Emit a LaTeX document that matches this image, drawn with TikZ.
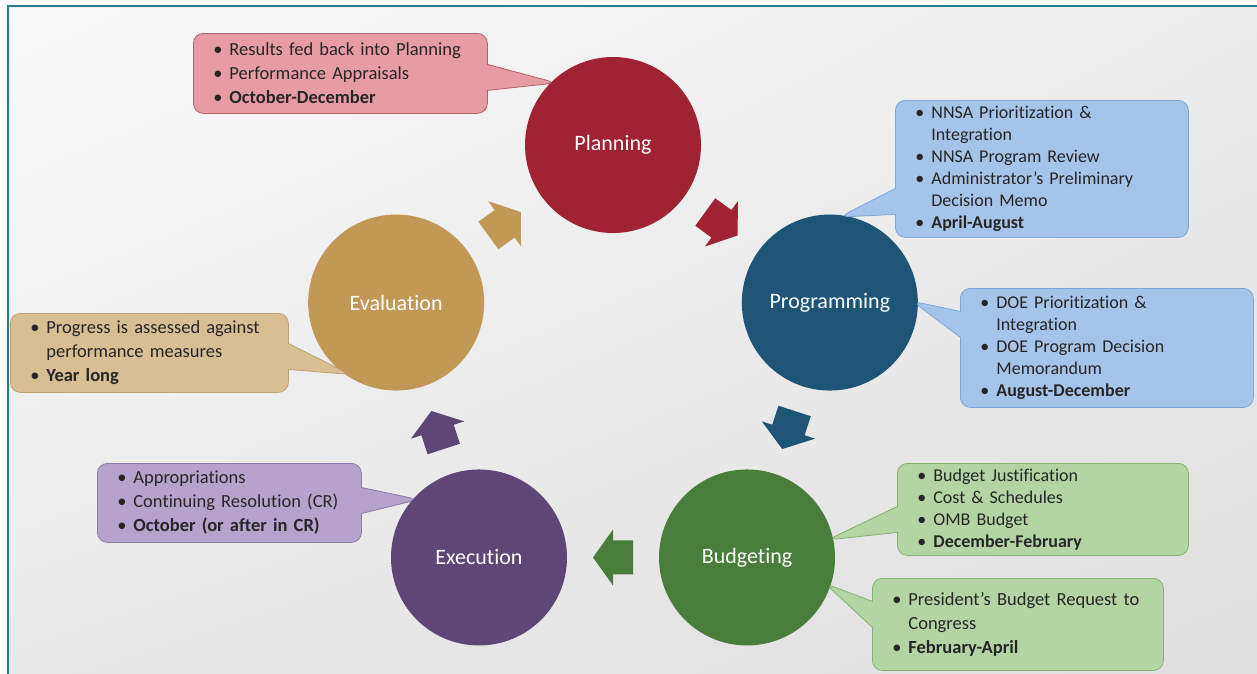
\documentclass[tikz,border=0pt]{standalone}
\usepackage{fontspec}
\setmainfont{Carlito}[Ligatures={NoCommon,NoRare}]
\usetikzlibrary{shapes.callouts,calc,shadings}

% stage colours and the lighter note colours
\definecolor{planRed}{HTML}{A02334}
\definecolor{progBlue}{HTML}{1E5577}
\definecolor{budgGreen}{HTML}{497D3C}
\definecolor{execPurple}{HTML}{5E4676}
\definecolor{evalGold}{HTML}{C19856}
\definecolor{planFill}{HTML}{E79CA5}
\definecolor{planLine}{HTML}{B4606B}
\definecolor{progFill}{HTML}{A5C4EA}
\definecolor{progLine}{HTML}{7EA6D9}
\definecolor{budgFill}{HTML}{B2D5A3}
\definecolor{budgLine}{HTML}{84B271}
\definecolor{execFill}{HTML}{B5A3CD}
\definecolor{execLine}{HTML}{8D79AA}
\definecolor{evalFill}{HTML}{D9BD95}
\definecolor{evalLine}{HTML}{BFA071}
\definecolor{ink}{HTML}{262626}
\definecolor{frameTeal}{HTML}{1F7F8F}
\definecolor{bgA}{HTML}{FAFAFA}
\definecolor{bgB}{HTML}{ECECEC}
\definecolor{bgC}{HTML}{E9E9E9}
\definecolor{bgD}{HTML}{DFDFDF}

% one bullet line, and a wrapped line under it
\newcommand\itm[1]{\mbox{\makebox[16pt][l]{\textbullet}#1}}
\newcommand\cont[1]{\mbox{\hspace*{16pt}#1}}

\tikzset{
  stage/.style={circle, minimum size=176pt, inner sep=0pt, text=white,
    font=\fontsize{22pt}{26pt}\selectfont},
  note/.style={rectangle callout, rounded corners=10pt, line width=0.8pt,
    anchor=north west, inner xsep=20pt, inner ysep=2pt, align=left, text=ink,
    font=\fontsize{18.5pt}{24pt}\selectfont,
    callout pointer width=26pt, callout pointer shorten=-6pt},
  tight/.style={font=\fontsize{18pt}{22pt}\selectfont},
  frame/.style={draw=frameTeal, line width=2.5pt},
}

\begin{document}
\begin{tikzpicture}[x=1pt, y=-1pt]
  \useasboundingbox (0,0) rectangle (1257,673);
  \clip (0,0) rectangle (1257,673);

  % backdrop and frame
  \fill[white] (0,0) rectangle (1257,673);
  \shade[upper left=bgA, upper right=bgB, lower left=bgC, lower right=bgD]
    (8,6) rectangle (1257,673);
  \draw[frame] (8,690) -- (8,6) -- (1270,6);

  % five stages round the hub
  \coordinate (hub) at (613,373);
  \foreach \n/\txt/\col [count=\i] in {plan/Planning/planRed, prog/Programming/progBlue,
      budg/Budgeting/budgGreen, exec/Execution/execPurple, eval/Evaluation/evalGold}
    \node[stage, fill=\col] (\n) at ($(hub)+({-90+72*(\i-1)}:228)$) {\txt};

  % block arrows half way between neighbours
  \foreach \s/\t/\col [count=\i] in {plan/prog/planRed, prog/budg/progBlue,
      budg/exec/budgGreen, exec/eval/execPurple, eval/plan/evalGold}
    \fill[\col, shift={($(\s)!.5!(\t)$)}, rotate={-36-72*(\i-1)}]
      (-20,-17) -- (0,-17) -- (0,-28) -- (20,0) -- (0,28) -- (0,17) -- (-20,17) -- cycle;

  % notes
  \node[note, fill=planFill, draw=planLine, text width=254pt, minimum height=80pt,
    callout absolute pointer={(plan.135)}] (planNote) at (193,33)
    {\itm{Results fed back into Planning}\\
     \itm{Performance Appraisals}\\
     \itm{\textbf{October-December}}};

  \node[note, tight, fill=progFill, draw=progLine, text width=253pt, minimum height=137pt,
    callout absolute pointer={(prog.80)}] (progNoteA) at (895,100)
    {\itm{NNSA Prioritization \&}\\
     \cont{Integration}\\
     \itm{NNSA Program Review}\\
     \itm{Administrator’s Preliminary}\\
     \cont{Decision Memo}\\
     \itm{\textbf{April-August}}};

  \node[note, tight, fill=progFill, draw=progLine, text width=253pt, minimum height=119pt,
    callout absolute pointer={(prog.0)}] (progNoteB) at (960,288)
    {\itm{DOE Prioritization \&}\\
     \cont{Integration}\\
     \itm{DOE Program Decision}\\
     \cont{Memorandum}\\
     \itm{\textbf{August-December}}};

  \node[note, tight, fill=budgFill, draw=budgLine, text width=251pt, minimum height=92pt,
    callout absolute pointer={(budg.12)}] (budgNoteA) at (897,463)
    {\itm{Budget Justification}\\
     \itm{Cost \& Schedules}\\
     \itm{OMB Budget}\\
     \itm{\textbf{December-February}}};

  \node[note, fill=budgFill, draw=budgLine, text width=251pt, minimum height=92pt,
    callout absolute pointer={(budg.-18)}] (budgNoteB) at (872,578)
    {\itm{President’s Budget Request to}\\
     \cont{Congress}\\
     \itm{\textbf{February-April}}};

  \node[note, fill=execFill, draw=execLine, text width=224pt, minimum height=79pt,
    callout absolute pointer={(exec.139)}] (execNote) at (97,463)
    {\itm{Appropriations}\\
     \itm{Continuing Resolution (CR)}\\
     \itm{\textbf{October (or after in CR)}}};

  \node[note, fill=evalFill, draw=evalLine, text width=238pt, minimum height=79pt,
    callout absolute pointer={(eval.234)}] (evalNote) at (10,313)
    {\itm{Progress is assessed against}\\
     \cont{performance measures}\\
     \itm{\textbf{Year long}}};
\end{tikzpicture}
\end{document}
